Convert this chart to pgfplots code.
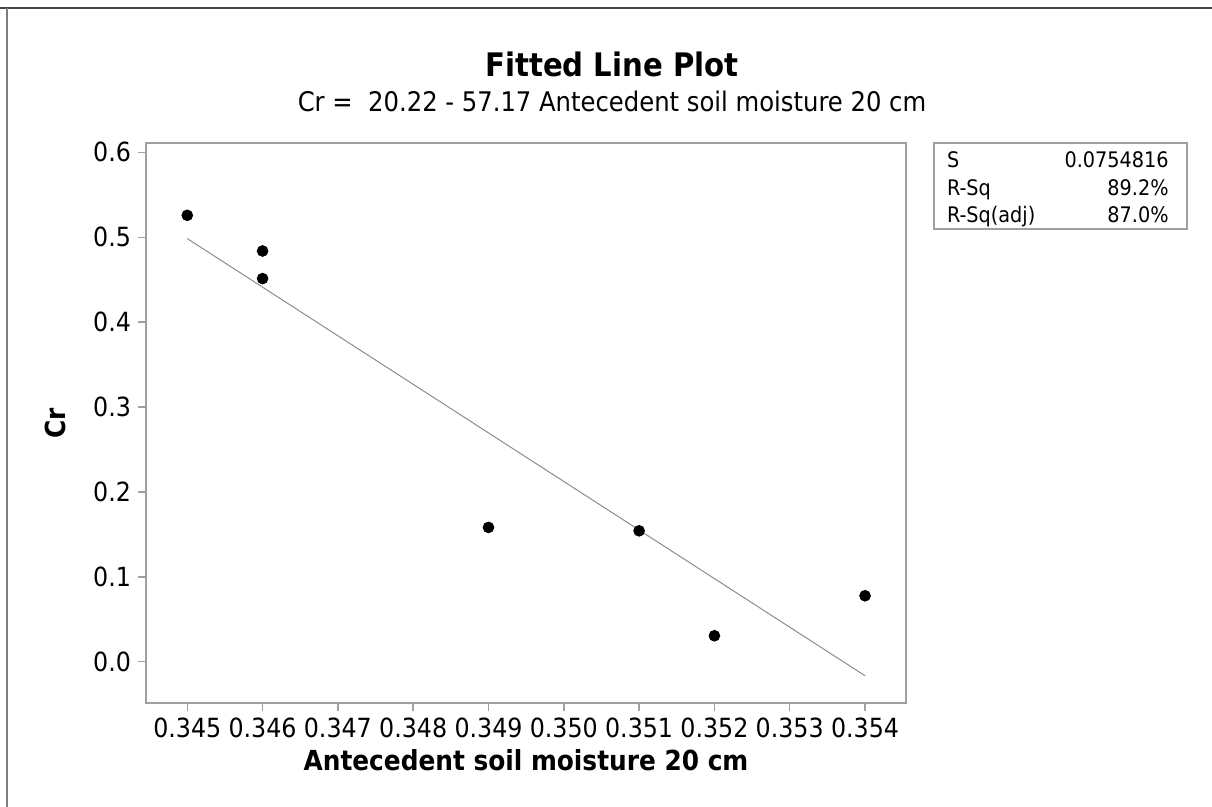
\documentclass[border=0pt]{standalone}
\usepackage{pgfplots}
\pgfplotsset{compat=1.18}
\usepackage{fontspec}
\setmainfont{DejaVu Sans Condensed}
\definecolor{axgray}{RGB}{160,160,160}
\definecolor{fitgray}{RGB}{140,140,140}
\definecolor{framegray}{RGB}{70,70,70}
\begin{document}
\begin{tikzpicture}[x=1pt,y=1pt]
\useasboundingbox (0,0) rectangle (606,-403.5);
\draw[line width=1pt, color=framegray] (0,-4) -- (606,-4);
\draw[line width=1pt, color=framegray!70] (3.5,-4) -- (3.5,-403.5);
\node[anchor=base, font=\bfseries\fontsize{16.2}{19}\selectfont] at (306,-38.4) {Fitted Line Plot};
\node[anchor=base, font=\fontsize{13.5}{16}\selectfont] at (306,-55.8) {Cr =\ \ 20.22 - 57.17 Antecedent soil moisture 20 cm};
\begin{axis}[
  at={(73pt,-351.5pt)}, anchor=south west,
  scale only axis, width=380pt, height=280pt,
  xmin=0.344452, xmax=0.354544, ymin=-0.0486, ymax=0.611,
  xtick={0.345,0.346,0.347,0.348,0.349,0.350,0.351,0.352,0.353,0.354},
  xticklabels={0.345,0.346,0.347,0.348,0.349,0.350,0.351,0.352,0.353,0.354},
  ytick={0,0.1,0.2,0.3,0.4,0.5,0.6},
  yticklabels={0.0,0.1,0.2,0.3,0.4,0.5,0.6},
  scaled x ticks=false, scaled y ticks=false,
  tick align=outside, tick pos=left,
  major tick length=4pt,
  axis line style={color=axgray, line width=0.7pt},
  tick style={color=axgray, line width=0.7pt},
  ticklabel style={font=\fontsize{13.2}{15}\selectfont},
  /pgf/number format/assume math mode=true,
  xlabel={Antecedent soil moisture 20 cm},
  ylabel={Cr},
  label style={font=\bfseries\fontsize{13.8}{16}\selectfont},
  xlabel style={at={(axis description cs:0.5,-0.1018)}, anchor=center},
  ylabel style={at={(axis description cs:-0.1197,0.5)}, anchor=center},
  clip=false,
]
\addplot[color=fitgray, line width=0.5pt] coordinates {(0.345,0.4984) (0.354,-0.0165)};
\addplot[only marks, mark=*, mark size=2.7pt, mark options={fill=black, draw=black}] coordinates {
(0.345,0.5258) (0.346,0.4838) (0.346,0.4513) (0.349,0.1582) (0.351,0.1542) (0.352,0.0306) (0.354,0.0777)};
\end{axis}
\draw[color=axgray, line width=0.6pt] (467,-71.5) rectangle (593.5,-114.5);
\begin{scope}[every node/.style={font=\fontsize{10.7}{12}\selectfont, inner sep=0pt}]
\node[anchor=base west] at (473.3,-83.8) {S};
\node[anchor=base east] at (584.5,-83.8) {0.0754816};
\node[anchor=base west] at (473.3,-97.6) {R-Sq};
\node[anchor=base east] at (584.5,-97.6) {89.2\%};
\node[anchor=base west] at (473.3,-111.3) {R-Sq(adj)};
\node[anchor=base east] at (584.5,-111.3) {87.0\%};
\end{scope}
\end{tikzpicture}
\end{document}
